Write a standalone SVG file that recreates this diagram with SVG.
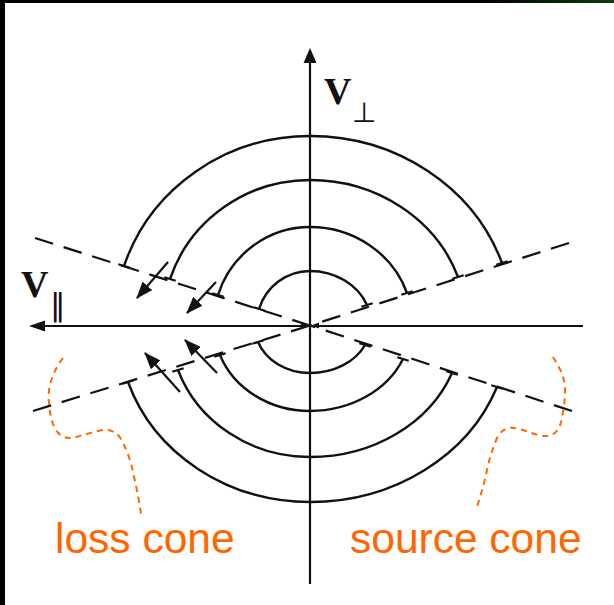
<svg xmlns="http://www.w3.org/2000/svg" width="614" height="605" viewBox="0 0 614 605">
<defs>
<style>
.ax{stroke:#111;stroke-width:2.2;fill:none}
.arc{stroke:#111;stroke-width:2.4;fill:none}
.dash{stroke:#111;stroke-width:2.2;fill:none;stroke-dasharray:19 11}
.tick{stroke:#111;stroke-width:2.2;fill:none}
.arr{stroke:#111;stroke-width:2.2;fill:none;marker-end:url(#ah)}
.org{stroke:#ff6600;stroke-width:2;fill:none;stroke-dasharray:6 5}
.lbl{font-family:"Liberation Serif","Times New Roman",serif;font-weight:bold;fill:#111}
.sub{font-family:"DejaVu Sans",sans-serif;fill:#111}
.cone{font-family:"Liberation Sans",Arial,sans-serif;font-size:42.5px;fill:#ff6600}
</style>
<marker id="ah" markerWidth="17" markerHeight="13" refX="16" refY="6.5" orient="auto" markerUnits="userSpaceOnUse">
<path d="M0,0 L17,6.5 L0,13 z" fill="#111"/>
</marker>
<linearGradient id="g" x1="0" x2="1"><stop offset="0" stop-color="#000"/><stop offset="1" stop-color="#0b3d0b"/></linearGradient>
</defs>
<rect width="614" height="605" fill="#fff"/>
<g id="frame">
<rect x="0" y="0" width="614" height="3" fill="#000"/>
<rect x="480" y="0" width="134" height="3" fill="url(#g)"/>
<rect x="0" y="0" width="5" height="605" fill="#000"/>
</g>
<g id="axes">
<line class="ax" x1="40" y1="326" x2="583" y2="326"/>
<polygon points="29,326 45,320.5 45,331.5" fill="#111"/>
<line class="ax" x1="310" y1="60" x2="310" y2="584"/>
<polygon points="310,48 303.5,63 316.5,63" fill="#111"/>
<polygon points="301,322.5 309,325.5 301,328.5" fill="#111"/>
<polygon points="319,322.5 311,325.5 319,328.5" fill="#111"/>
</g>
<g id="cones">
<path class="dash" d="M35,238 L310,325.5"/>
<path class="dash" d="M569,243 L310,325.5"/>
<path class="dash" d="M572,411 L310,325.5"/>
<path class="dash" d="M33,411 L310,325.5"/>
</g>
<g id="upper-arcs">
<path class="arc" d="M259,309 A53.4,54 0 0 1 310,271 A61.4,54 0 0 1 367,305"/>
<path class="arc" d="M218,295 A96.6,98 0 0 1 310,227 A102.6,98 0 0 1 407,293"/>
<path class="arc" d="M170,279 A147.6,145 0 0 1 310,180 A156.9,145 0 0 1 458,277"/>
<path class="arc" d="M124,266 A195.8,189 0 0 1 310,136 A203.3,189 0 0 1 502,263"/>
<path class="tick" d="M253.3,307.2 L264.7,310.8 M212.3,293.2 L223.7,296.8 M164.3,277.2 L175.7,280.8 M118.3,264.2 L129.7,267.8"/>
<path class="tick" d="M361.3,306.8 L372.7,303.2 M401.3,294.8 L412.7,291.2 M452.3,278.8 L463.7,275.2 M496.3,264.8 L507.7,261.2"/>
</g>
<g id="lower-arcs">
<path class="arc" d="M258,342 A55.3,47 0 0 0 310,373 A60.1,47 0 0 0 365,345"/>
<path class="arc" d="M220,355 A95.7,85 0 0 0 310,411 A100.9,85 0 0 0 403,359"/>
<path class="arc" d="M178,370 A140,131 0 0 0 310,457 A152,131 0 0 0 452,373"/>
<path class="arc" d="M128,382 A192,176 0 0 0 310,502 A199,176 0 0 0 497,387"/>
<path class="tick" d="M252.3,343.8 L263.7,340.2 M214.3,356.8 L225.7,353.2 M172.3,371.8 L183.7,368.2 M122.3,383.8 L133.7,380.2"/>
<path class="tick" d="M359.3,343.2 L370.7,346.8 M397.3,357.2 L408.7,360.8 M446.3,371.2 L457.7,374.8 M491.3,385.2 L502.7,388.8"/>
</g>
<g id="diffusion-arrows">
<line class="arr" x1="168" y1="262" x2="137" y2="298"/>
<line class="arr" x1="216" y1="282" x2="187" y2="313"/>
<line class="arr" x1="180" y1="392" x2="145" y2="353"/>
<line class="arr" x1="217" y1="373" x2="185" y2="340"/>
</g>
<g id="label-vperp">
<text class="lbl" x="324" y="104" font-size="38">V</text>
<text class="sub" x="352" y="122" font-size="28">⊥</text>
</g>
<g id="label-vpar">
<text class="lbl" x="21" y="297" font-size="38">V</text>
<text class="sub" x="50" y="315" font-size="31">‖</text>
</g>
<g id="loss-cone">
<path class="org" d="M63,358 C52,372 47,390 49,403 C50,415 52,424 56,430 C60,436 64,438 70,438 C82,437 97,429 108,430 C114,431 118,434 121,439 C127,450 131,462 133,472 C137,490 140,505 141,515"/>
<text class="cone" x="55" y="553">loss cone</text>
</g>
<g id="source-cone">
<path class="org" d="M553,357 C560,368 565,378 565,390 C565,403 563,413 561,422 C559,430 555,435 547,436 C537,437 525,429 514,428 C507,427 501,430 497,438 C492,450 489,460 487,470 C484,485 480,497 477,507"/>
<text class="cone" x="350" y="553">source cone</text>
</g>
</svg>
